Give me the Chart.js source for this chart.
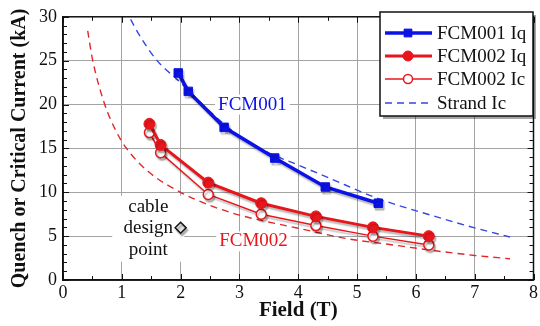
<!DOCTYPE html>
<html><head><meta charset="utf-8">
<script src="https://cdn.jsdelivr.net/npm/chart.js@4/dist/chart.umd.min.js"></script>
<style>html,body{margin:0;padding:0;background:#fff;}#wrap{width:540px;height:326px;}</style>
</head><body><div id="wrap"><canvas id="c" width="540" height="326"></canvas></div>
<script>
// ---- data ----
const fcm001Field = [1.96, 2.13, 2.74, 3.60, 4.46, 5.36];
const fcm001Iq    = [23.6, 21.5, 17.4, 13.9, 10.6, 8.75];
const fcm002Field = [1.47, 1.66, 2.47, 3.37, 4.30, 5.27, 6.22];
const fcm002Iq    = [17.8, 15.4, 11.1, 8.75, 7.25, 6.0, 5.0];
const fcm002Ic    = [16.8, 14.5, 9.75, 7.5, 6.2, 5.0, 4.0];
const strandField001 = [1.15, 1.3, 1.6, 1.95, 2.5, 3.0, 3.5, 4.0, 4.5, 5.35, 6.25, 7.0, 7.6];
const strandIc001    = [29.7, 27.9, 25.0, 22.8, 19.2, 16.4, 14.5, 13.1, 11.7, 9.3, 7.4, 5.94, 4.9];
const strandField002 = [0.42, 0.5, 0.7, 0.9, 1.08, 1.46, 2.0, 2.5, 3.0, 4.0, 4.84, 5.5, 6.25, 7.0, 7.6];
const strandIc002    = [28.4, 25.2, 20.2, 17.0, 15.0, 12.3, 10.0, 8.5, 7.4, 5.9, 4.7, 4.1, 3.4, 2.8, 2.42];
const designField = [2.0];
const designCurrent = [5.95];
const xTickMin = 0, xTickMax = 8, xTickStep = 1;
const yTickMin = 0, yTickMax = 30, yTickStep = 5;
const legendLabels = ['FCM001 Iq', 'FCM002 Iq', 'FCM002 Ic', 'Strand Ic'];
const xTitle = 'Field (T)';
const yTitle = 'Quench or Critical Current (kA)';

const pts = (xs, ys) => xs.map((x, i) => ({x, y: ys[i]}));
const BLUE = '#0b12e6', RED = '#e8161c', BLUE_D = '#3346e6', RED_D = '#e2262a';
const SERIF = '"Liberation Serif", "DejaVu Serif", serif';

const shadowPlugin = {
  id: 'shadow',
  beforeDatasetDraw(chart, args) {
    if (args.index <= 2 || args.index === 5) {
      const ctx = chart.ctx; ctx.save();
      ctx.shadowColor = 'rgba(0,0,0,0.28)'; ctx.shadowOffsetX = 1.5; ctx.shadowOffsetY = 2.5; ctx.shadowBlur = 1.5;
    }
  },
  afterDatasetDraw(chart, args) {
    if (args.index <= 2 || args.index === 5) chart.ctx.restore();
  }
};

const annotPlugin = {
  id: 'annot',
  beforeDatasetsDraw(chart) {
    const ctx = chart.ctx, xs = chart.scales.x, ys = chart.scales.y;
    ctx.save();
    ctx.font = '19px ' + SERIF;
    ctx.textAlign = 'center'; ctx.textBaseline = 'middle';
    const label = (t, x, y, col) => {
      const w = ctx.measureText(t).width;
      ctx.fillStyle = '#fff'; ctx.fillRect(x - w/2 - 3, y - 10, w + 6, 20);
      ctx.fillStyle = col; ctx.fillText(t, x, y);
    };
    label('FCM001', xs.getPixelForValue(3.22), ys.getPixelForValue(20), BLUE);
    label('FCM002', xs.getPixelForValue(3.24), ys.getPixelForValue(4.4), RED);
    const cx = xs.getPixelForValue(1.45);
    const lines = ['cable', 'design', 'point'];
    const y0 = ys.getPixelForValue(8.35);
    ctx.fillStyle = '#fff';
    ctx.fillRect(cx - 36, y0 - 11, 72, 66);
    ctx.fillRect(xs.getPixelForValue(2.0) - 8, ys.getPixelForValue(6.9), 16, 16);
    ctx.fillStyle = '#111';
    lines.forEach((t, i) => ctx.fillText(t, cx, y0 + i * 21.7));
    ctx.restore();
  },
  afterDatasetsDraw(chart) {
    const ctx = chart.ctx, a = chart.chartArea, xs = chart.scales.x, ys = chart.scales.y;
    ctx.save();
    ctx.strokeStyle = '#111'; ctx.lineWidth = 1;
    ctx.beginPath();
    for (let v = xTickMin; v <= xTickMax; v += 0.5) {
      const px = Math.round(xs.getPixelForValue(v)) + 0.5;
      const len = (v % 1 === 0) ? 6 : 4;
      ctx.moveTo(px, a.bottom); ctx.lineTo(px, a.bottom - len);
      ctx.moveTo(px, a.top); ctx.lineTo(px, a.top + len);
    }
    for (let v = yTickMin; v <= yTickMax; v += 1) {
      const py = Math.round(ys.getPixelForValue(v)) + 0.5;
      const len = (v % 5 === 0) ? 6 : 4;
      ctx.moveTo(a.left, py); ctx.lineTo(a.left + len, py);
      ctx.moveTo(a.right, py); ctx.lineTo(a.right - len, py);
    }
    ctx.stroke();
    ctx.lineWidth = 1.5; ctx.strokeStyle = '#111';
    ctx.strokeRect(a.left, a.top, a.right - a.left, a.bottom - a.top);
    ctx.restore();
  },
  afterDraw(chart) {
    const ctx = chart.ctx;
    const bx = 380, by = 12, bw = 153, bh = 104;
    ctx.save();
    ctx.fillStyle = 'rgba(0,0,0,0.35)';
    ctx.fillRect(bx + 3, by + 3, bw, bh);
    ctx.fillStyle = '#fff'; ctx.fillRect(bx, by, bw, bh);
    ctx.strokeStyle = '#111'; ctx.lineWidth = 1.5; ctx.strokeRect(bx, by, bw, bh);
    const rows = [33, 56, 79, 103];
    const dsIdx = [0, 1, 2, 3];
    ctx.font = '19px ' + SERIF; ctx.textBaseline = 'middle'; ctx.textAlign = 'left';
    dsIdx.forEach((di, i) => {
      const ds = chart.data.datasets[di];
      const y = rows[i];
      ctx.save();
      ctx.strokeStyle = ds.borderColor; ctx.lineWidth = ds.borderWidth;
      ctx.setLineDash(ds.borderDash || []);
      ctx.beginPath(); ctx.moveTo(385, y); ctx.lineTo(432, y); ctx.stroke();
      ctx.setLineDash([]);
      if (ds.pointRadius > 0) {
        ctx.fillStyle = ds.pointBackgroundColor || ds.backgroundColor;
        ctx.strokeStyle = ds.pointBorderColor || ds.borderColor;
        ctx.lineWidth = ds.pointBorderWidth || 1;
        Chart.helpers.drawPoint(ctx, {pointStyle: ds.pointStyle, radius: ds.pointRadius - 0.5, rotation: 0, borderWidth: ctx.lineWidth}, 408, y);
      }
      ctx.restore();
      ctx.fillStyle = '#111';
      ctx.fillText(legendLabels[i], 437, y + 1);
    });
    ctx.restore();
  }
};

new Chart(document.getElementById('c'), {
  type: 'scatter',
  data: {
    datasets: [
      { label: legendLabels[0], data: pts(fcm001Field, fcm001Iq), showLine: true,
        borderColor: BLUE, backgroundColor: BLUE, borderWidth: 3.5,
        pointStyle: 'rect', pointRadius: 6, pointBorderWidth: 1, pointBackgroundColor: BLUE, pointBorderColor: BLUE },
      { label: legendLabels[1], data: pts(fcm002Field, fcm002Iq), showLine: true,
        borderColor: RED, backgroundColor: RED, borderWidth: 3,
        pointStyle: 'circle', pointRadius: 5.5, pointBorderWidth: 1, pointBackgroundColor: RED, pointBorderColor: RED },
      { label: legendLabels[2], data: pts(fcm002Field, fcm002Ic), showLine: true,
        borderColor: RED, backgroundColor: '#fff', borderWidth: 1.5,
        pointStyle: 'circle', pointRadius: 5, pointBorderWidth: 1.5, pointBackgroundColor: '#fff', pointBorderColor: RED },
      { label: legendLabels[3], data: pts(strandField001, strandIc001), showLine: true,
        borderColor: BLUE_D, borderWidth: 1.4, borderDash: [7, 5], pointRadius: 0, cubicInterpolationMode: 'monotone' },
      { label: 'Strand Ic FCM002', data: pts(strandField002, strandIc002), showLine: true,
        borderColor: RED_D, borderWidth: 1.4, borderDash: [7, 5], pointRadius: 0, cubicInterpolationMode: 'monotone' },
      { label: 'cable design point', data: pts(designField, designCurrent), showLine: false,
        pointStyle: 'rectRot', pointRadius: 5.5, pointBorderWidth: 1.5, pointBackgroundColor: '#e4e4e4', pointBorderColor: '#111' }
    ]
  },
  options: {
    responsive: false, animation: false, devicePixelRatio: 1,
    layout: { autoPadding: false, padding: { left: 0, right: 3, top: 11, bottom: 0 } },
    plugins: { legend: { display: false }, tooltip: { enabled: false } },
    scales: {
      x: {
        type: 'linear', min: xTickMin, max: xTickMax,
        ticks: { stepSize: xTickStep, color: '#111', padding: 2, font: { family: SERIF, size: 18 } },
        grid: { color: '#a3a3a3', lineWidth: 1, drawTicks: false },
        border: { display: true, color: '#111', width: 1.5 },
        title: { display: true, text: xTitle, color: '#111', padding: { top: 0, bottom: 3 }, font: { family: SERIF, size: 21, weight: 'bold' } },
        afterFit(s) { s.height = 46; }
      },
      y: {
        type: 'linear', min: yTickMin, max: yTickMax,
        ticks: { stepSize: yTickStep, color: '#111', padding: 6, font: { family: SERIF, size: 18 } },
        grid: { color: '#a3a3a3', lineWidth: 1, drawTicks: false },
        border: { display: true, color: '#111', width: 1.5 },
        title: { display: true, text: yTitle, color: '#111', padding: { top: 8, bottom: 0 }, font: { family: SERIF, size: 20, weight: 'bold' } },
        afterFit(s) { s.width = 63; }
      }
    }
  },
  plugins: [shadowPlugin, annotPlugin]
});
</script>
</body></html>
